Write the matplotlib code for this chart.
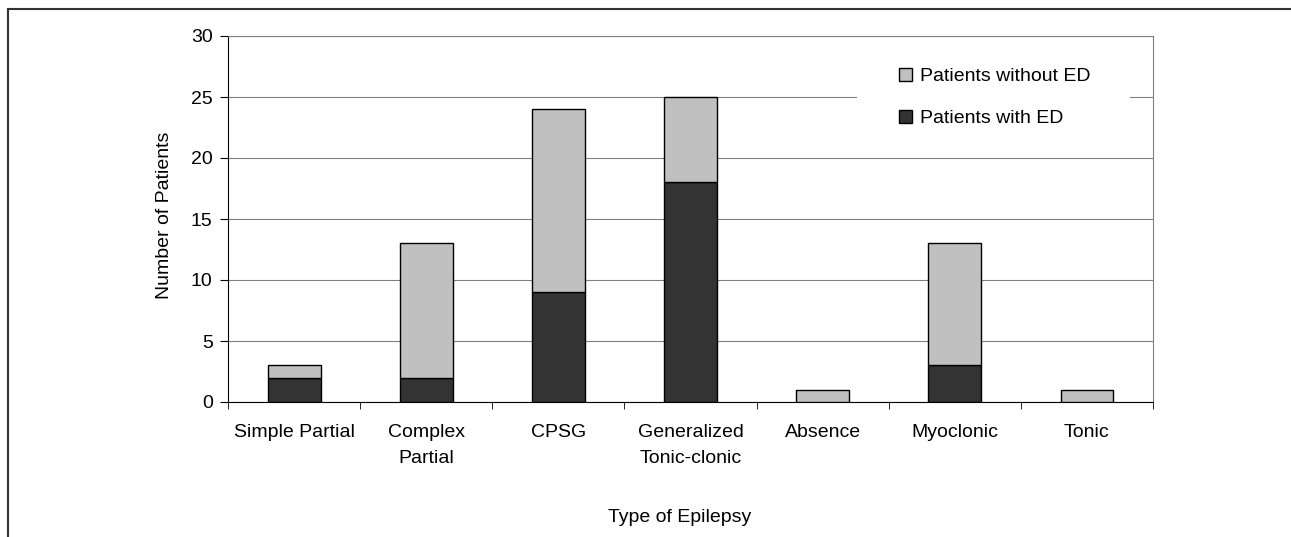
import matplotlib
matplotlib.use("Agg")
import matplotlib.pyplot as plt
from matplotlib.lines import Line2D
from matplotlib.patches import Rectangle
import numpy as np

plt.rcParams['font.family'] = ['Liberation Sans', 'DejaVu Sans']

categories = ["Simple Partial", "Complex\nPartial", "CPSG", "Generalized\nTonic-clonic",
              "Absence", "Myoclonic", "Tonic"]
with_ed = [2, 2, 9, 18, 0, 3, 0]
without_ed = [1, 11, 15, 7, 1, 10, 1]
yticks = [0, 5, 10, 15, 20, 25, 30]

FS = 14
W, H = 1291, 537
fig = plt.figure(figsize=(W/100, H/100), dpi=100)
ax = fig.add_axes([228/W, 1-402/H, (1153-228)/W, (402-36)/H])

x = np.arange(len(categories))
ax.bar(x, with_ed, width=0.4, color='#333333', edgecolor='black', linewidth=1, label='Patients with ED', zorder=3)
ax.bar(x, without_ed, width=0.4, bottom=with_ed, color='#c0c0c0', edgecolor='black', linewidth=1,
       label='Patients without ED', zorder=3)

ax.set_xlim(-0.5, len(categories)-0.5)
ax.set_ylim(0, 30)
ax.set_yticks(yticks)
ax.yaxis.grid(True, color='#808080', linewidth=0.8, zorder=0)
ax.set_axisbelow(True)
ax.set_xticks(x)
ax.set_xticklabels(categories, fontsize=FS, linespacing=1.76)
ax.set_xticks(np.arange(len(categories)+1)-0.5, minor=True)
ax.tick_params(axis='x', which='major', length=0, pad=15.5)
ax.tick_params(axis='x', which='minor', length=5, direction='out', color='black')
ax.tick_params(axis='y', labelsize=FS, length=6, pad=5, direction='out', color='black')

for s in ['top', 'right']:
    ax.spines[s].set_color('#808080')
for s in ['left', 'bottom']:
    ax.spines[s].set_color('black')

ax.set_ylabel("Number of Patients", fontsize=FS)
ax.yaxis.set_label_coords(-0.0595, 0.511)
fig.text(680/W, 1-517/H, "Type of Epilepsy", ha='center', va='center', fontsize=FS)

# white legend background covering the gridline
bg = Rectangle((857/W, 1-150/H), (1130-857)/W, (150-55)/H, transform=fig.transFigure,
               facecolor='white', edgecolor='none', zorder=4)
ax.add_artist(bg)
bg.set_clip_on(False)

h, l = ax.get_legend_handles_labels()
leg = ax.legend(h[::-1], l[::-1], loc='upper left', bbox_to_anchor=(899/W, 1-68/H),
                bbox_transform=fig.transFigure, borderaxespad=0, borderpad=0,
                frameon=False, fontsize=FS, handlelength=0.67, handleheight=0.67, handletextpad=0.4,
                labelspacing=1.26)
leg.set_zorder(5)

fig.add_artist(Line2D([8/W, 8/W], [0, 1-9/H], color='#333333', linewidth=1.5))
fig.add_artist(Line2D([8/W, 1], [1-9/H, 1-9/H], color='#333333', linewidth=1.5))

fig.savefig("out.png", dpi=100)
